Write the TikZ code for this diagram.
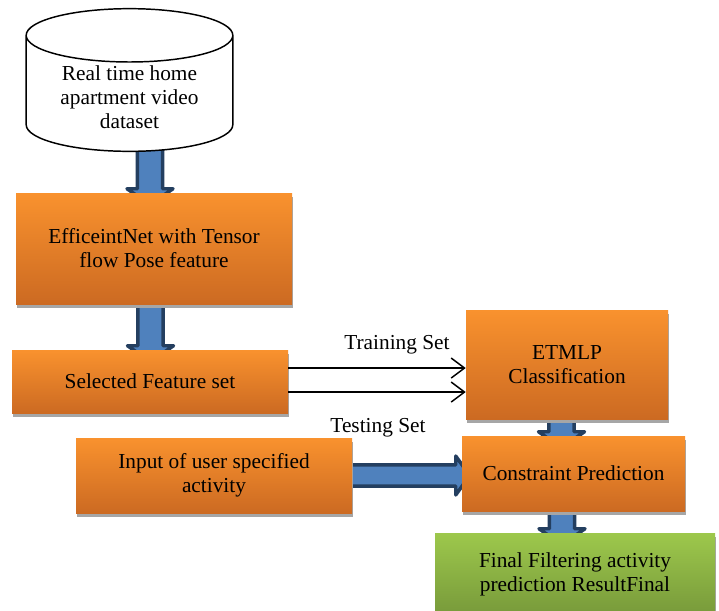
\documentclass[tikz,border=0pt]{standalone}
\usepackage{fontspec}
\setmainfont{Liberation Serif}
\usetikzlibrary{arrows.meta,shapes.geometric,calc,shadows,backgrounds}
\definecolor{orangetop}{HTML}{F9922E}
\definecolor{orangebot}{HTML}{CC6A22}
\definecolor{greentop}{HTML}{9DC84C}
\definecolor{greenbot}{HTML}{77993A}
\definecolor{arrowfill}{HTML}{4F81BD}
\definecolor{arrowline}{HTML}{243F60}
\definecolor{shadowgray}{HTML}{A6A6A6}

% thick block arrow pointing down, #1 source anchor, #2 target anchor, #3 x position
\newcommand{\blockdown}[3]{%
  \draw[blockarrow] let \p1=(#1), \p2=(#2), \p3=(#3,0) in
    (\x3-9.4pt,\y1+3pt) -- (\x3-9.4pt,\y2+3pt) -- (\x3-17.25pt,\y2+3pt)
    -- (\x3,\y2-9pt) -- (\x3+17.25pt,\y2+3pt) -- (\x3+9.4pt,\y2+3pt)
    -- (\x3+9.4pt,\y1+3pt) -- cycle;}

\begin{document}
\begin{tikzpicture}[x=0.75pt, y=-0.75pt,
  every node/.style={font=\fontsize{16}{18}\selectfont},
  stage/.style={rectangle, top color=orangetop, bottom color=orangebot, align=center, inner sep=0pt,
    drop shadow={shadow xshift=0.75pt, shadow yshift=-3pt, fill=shadowgray, opacity=1}},
  result/.style={stage, top color=greentop, bottom color=greenbot},
  database/.style={cylinder, shape border rotate=90, draw, line width=1.1pt, fill=white,
    minimum width=155pt, minimum height=107pt, aspect=6, anchor=shape center},
  blockarrow/.style={fill=arrowfill, draw=arrowline, line width=2.6pt, line join=round},
  setline/.style={-{Straight Barb[length=10pt, width=15pt]}, line width=1.1pt},
  setlabel/.style={inner sep=1pt},
]
\useasboundingbox (0,0) rectangle (719,611);

% dataset
\node[database] (db) at (129.5,80) {};
\node[align=center] (dbtext) at (129.5,97) {Real time home\\apartment video\\dataset};

% processing chain
\node[stage, minimum width=207pt, minimum height=83.25pt] (eff) at (154,248.5)
  {EfficeintNet with Tensor\\flow Pose feature};
\node[stage, minimum width=207pt, minimum height=47.25pt] (sel) at (150,381.5)
  {Selected Feature set};
\node[stage, minimum width=151.5pt, minimum height=81.75pt] (etmlp) at (567,364.5)
  {ETMLP\\Classification};
\node[stage, minimum width=207pt, minimum height=56.25pt] (input) at (214,475.5)
  {Input of user specified\\activity};
\node[stage, minimum width=167.25pt, minimum height=56.25pt] (cons) at (573.5,473.5)
  {Constraint Prediction};
\node[result, minimum width=210pt, minimum height=62.25pt] (final) at (575,574.5)
  {Final Filtering activity\\prediction ResultFinal};

% training / testing split
\draw[setline] ([yshift=10.1pt]sel.east) -- ([yshift=10.1pt]sel.east -| etmlp.west);
\draw[setline] ([yshift=-7.9pt]sel.east) -- ([yshift=-7.9pt]sel.east -| etmlp.west);
\node[setlabel] (trainlbl) at (397,345) {Training Set};
\node[setlabel] (testlbl) at (378,428) {Testing Set};

% block arrows behind the boxes
\begin{scope}[on background layer]
  \blockdown{db.bottom}{eff.north}{150}
  \blockdown{eff.south}{sel.north}{150.5}
  \blockdown{etmlp.south}{cons.north}{561.5}
  \blockdown{cons.south}{final.north}{562}
  \draw[blockarrow] let \p1=(input.east), \p2=(cons.west) in
    (\x1-3pt,\y1+7.9pt) -- (\x2-4.5pt,\y1+7.9pt) -- (\x2-4.5pt,\y1+14.6pt)
    -- (\x2+6pt,\y1) -- (\x2-4.5pt,\y1-14.6pt) -- (\x2-4.5pt,\y1-7.9pt)
    -- (\x1-3pt,\y1-7.9pt) -- cycle;
\end{scope}

\end{tikzpicture}
\end{document}
